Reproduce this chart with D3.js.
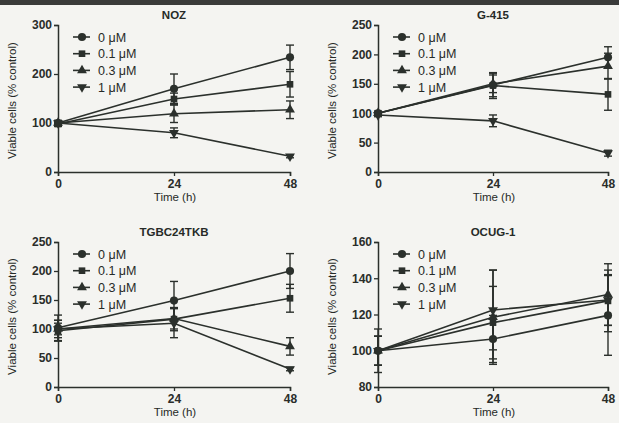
<!DOCTYPE html>
<html><head><meta charset="utf-8">
<script src="https://cdn.jsdelivr.net/npm/d3@7"></script>
<style>
html,body{margin:0;padding:0;background:#f4f4f1;}
svg{display:block;}
text{font-family:"Liberation Sans",Arial,Helvetica,sans-serif;fill:#262a27;}
</style></head>
<body>
<svg id="chart" width="619" height="423"></svg>
<script>
// ---- data ----
const times = [0, 24, 48];
const doses = ["0 \u03bcM", "0.1 \u03bcM", "0.3 \u03bcM", "1 \u03bcM"];
const panelTitles = ["NOZ", "G-415", "TGBC24TKB", "OCUG-1"];
const yDomains = [[0, 300], [0, 250], [0, 250], [80, 160]];
const yTicks = [[0, 100, 200, 300], [0, 50, 100, 150, 200, 250], [0, 50, 100, 150, 200, 250], [80, 100, 120, 140, 160]];

const nozMean = [[100, 170, 234], [98, 149, 179], [100, 119, 127], [100, 80, 32]];
const nozErr  = [[5, 30, 25], [5, 12, 26], [5, 18, 18], [5, 10, 3]];
const g415Mean = [[100, 148, 195], [100, 147, 132], [100, 150, 180], [97, 87, 32]];
const g415Err  = [[3, 20, 18], [3, 22, 27], [3, 15, 22], [3, 10, 5]];
const tgbcMean = [[102, 149, 200], [97, 117, 153], [100, 118, 70], [100, 110, 31]];
const tgbcErr  = [[22, 33, 30], [18, 20, 24], [15, 18, 15], [10, 25, 3]];
const ocugMean = [[100, 106.5, 119.5], [100, 115.5, 127.5], [100, 118.5, 131], [100, 122.5, 128]];
const ocugErr  = [[8, 13, 22], [8, 20, 17], [12, 26, 17], [8, 22, 14]];

const means = [nozMean, g415Mean, tgbcMean, ocugMean];
const errs = [nozErr, g415Err, tgbcErr, ocugErr];

// ---- layout ----
const svg = d3.select("#chart");
const ink = "#2b302c";
svg.append("rect").attr("x", 0).attr("y", 0).attr("width", 619).attr("height", 5).attr("fill", "#3a3b3a");

const boxes = [
  {x0: 58, x1: 290, y0: 25, y1: 172},
  {x0: 378, x1: 608, y0: 25, y1: 172},
  {x0: 58, x1: 290, y0: 242, y1: 387},
  {x0: 378, x1: 608, y0: 242, y1: 387}
];
const symbols = [d3.symbolCircle, d3.symbolSquare, d3.symbolTriangle, d3.symbolTriangle];
const rotations = [0, 0, 0, 180];
const symSize = [52, 44, 42, 42];

boxes.forEach((b, p) => {
  const g = svg.append("g");
  const x = d3.scaleLinear().domain([0, 48]).range([b.x0, b.x1]);
  const y = d3.scaleLinear().domain(yDomains[p]).range([b.y1, b.y0]);

  const xAxis = g.append("g").attr("transform", `translate(0,${b.y1})`)
    .call(d3.axisBottom(x).tickValues(times).tickSize(4).tickPadding(3));
  const yAxis = g.append("g").attr("transform", `translate(${b.x0},0)`)
    .call(d3.axisLeft(y).tickValues(yTicks[p]).tickSize(4).tickPadding(2));
  [xAxis, yAxis].forEach(a => {
    a.select(".domain").attr("stroke", ink).attr("stroke-width", 1.5);
    a.selectAll(".tick line").attr("stroke", ink).attr("stroke-width", 1.3);
    a.selectAll(".tick text").attr("font-size", 12).attr("font-weight", "bold").style("fill", "#2a2d2a")
      .attr("font-family", "'Liberation Sans',Arial,sans-serif");
  });

  // title
  g.append("text").attr("x", (b.x0 + b.x1) / 2).attr("y", b.y0 - 6)
    .attr("text-anchor", "middle").attr("font-size", 11.5).attr("font-weight", "bold").text(panelTitles[p]);
  // x label
  g.append("text").attr("x", (b.x0 + b.x1) / 2 + 1).attr("y", b.y1 + 29)
    .attr("text-anchor", "middle").attr("font-size", 11.5).text("Time (h)");
  // y label
  const ylx = b.x0 - 42, yly = (b.y0 + b.y1) / 2 + 2;
  g.append("text").attr("transform", `translate(${ylx},${yly}) rotate(-90)`)
    .attr("text-anchor", "middle").attr("font-size", 11.5).text("Viable cells (% control)");

  const line = d3.line().x((d, i) => x(times[i])).y(d => y(d));
  means[p].forEach((ser, s) => {
    // error bars
    ser.forEach((v, i) => {
      const e = errs[p][s][i];
      const cx = x(times[i]);
      g.append("line").attr("x1", cx).attr("x2", cx).attr("y1", y(v - e)).attr("y2", y(v + e))
        .attr("stroke", ink).attr("stroke-width", 1.4);
      [v - e, v + e].forEach(w => {
        g.append("line").attr("x1", cx - 4).attr("x2", cx + 4).attr("y1", y(w)).attr("y2", y(w))
          .attr("stroke", ink).attr("stroke-width", 1.4);
      });
    });
    g.append("path").datum(ser).attr("d", line).attr("fill", "none")
      .attr("stroke", ink).attr("stroke-width", 1.6);
    ser.forEach((v, i) => {
      g.append("path").attr("d", d3.symbol().type(symbols[s]).size(symSize[s])())
        .attr("transform", `translate(${x(times[i])},${y(v)}) rotate(${rotations[s]})`)
        .attr("fill", ink);
    });
  });

  // legend
  doses.forEach((d, s) => {
    const ly = b.y0 + 12 + s * 16.7;
    const lx = b.x0 + 24;
    g.append("line").attr("x1", lx - 9).attr("x2", lx + 8).attr("y1", ly).attr("y2", ly)
      .attr("stroke", ink).attr("stroke-width", 1.6);
    g.append("path").attr("d", d3.symbol().type(symbols[s]).size(symSize[s])())
      .attr("transform", `translate(${lx},${ly}) rotate(${rotations[s]})`).attr("fill", ink);
    g.append("text").attr("x", lx + 16).attr("y", ly + 4.5).attr("font-size", 12.5).text(d);
  });
});
</script>
</body></html>
